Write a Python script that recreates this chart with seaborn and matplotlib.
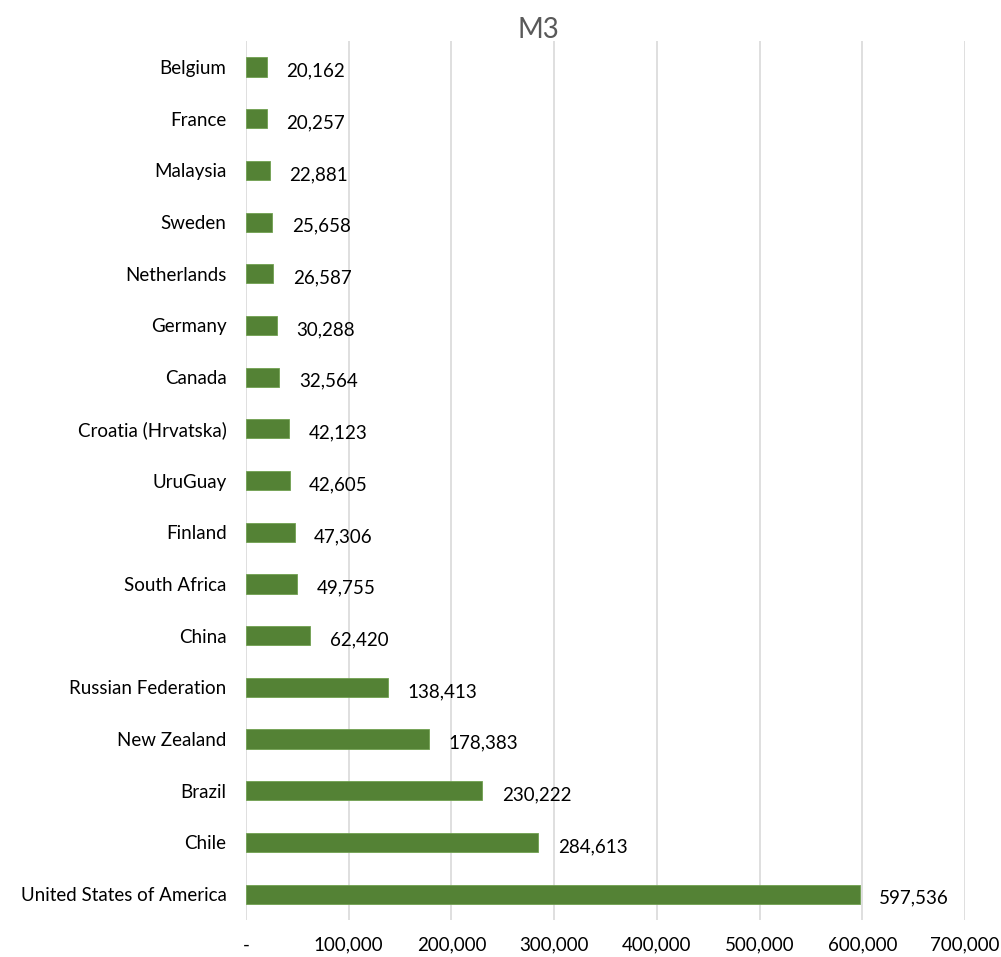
import matplotlib
matplotlib.use("Agg")
import matplotlib.pyplot as plt
import seaborn as sns
import pandas as pd

countries = ["Belgium", "France", "Malaysia", "Sweden", "Netherlands", "Germany",
             "Canada", "Croatia (Hrvatska)", "UruGuay", "Finland", "South Africa",
             "China", "Russian Federation", "New Zealand", "Brazil", "Chile",
             "United States of America"]
values = [20162, 20257, 22881, 25658, 26587, 30288, 32564, 42123, 42605, 47306,
          49755, 62420, 138413, 178383, 230222, 284613, 597536]
xticks = [0, 100000, 200000, 300000, 400000, 500000, 600000, 700000]
xticklabels = ["-", "100,000", "200,000", "300,000", "400,000", "500,000", "600,000", "700,000"]

sns.set_theme(style="white")
plt.rcParams['font.family'] = ['Lato', 'DejaVu Sans']

df = pd.DataFrame({"country": countries, "value": values})

fig = plt.figure(figsize=(10.01, 9.57), dpi=100)
ax = fig.add_axes([0.2458, 0.0387, 0.7182, 0.9183])

sns.barplot(data=df, y="country", x="value", orient="h", color="#548235",
            width=0.37, saturation=1, edgecolor="#70a050", linewidth=0.6, ax=ax)

ax.set_xlim(0, 700000)
ax.set_xticks(xticks)
ax.set_xticklabels(xticklabels, fontsize=13.5, color="#000000")
ax.tick_params(axis="x", length=0, pad=12)
ax.tick_params(axis="y", length=0, pad=14, labelsize=13.5, colors="#000000")
ax.xaxis.grid(True, color="#d9d9d9", linewidth=1.2)
ax.yaxis.grid(False)
ax.set_axisbelow(True)
for s in ax.spines.values():
    s.set_visible(False)
ax.set_xlabel("")
ax.set_ylabel("")

for i, v in enumerate(values):
    ax.annotate(f"{v:,}", xy=(v, i), xytext=(14, -3), textcoords="offset points",
                ha="left", va="center", fontsize=13.5, color="#000000")

fig.text(0.538, 0.969, "M3", ha="center", va="center", fontsize=20, color="#595959")

fig.savefig("out.png", dpi=100)
